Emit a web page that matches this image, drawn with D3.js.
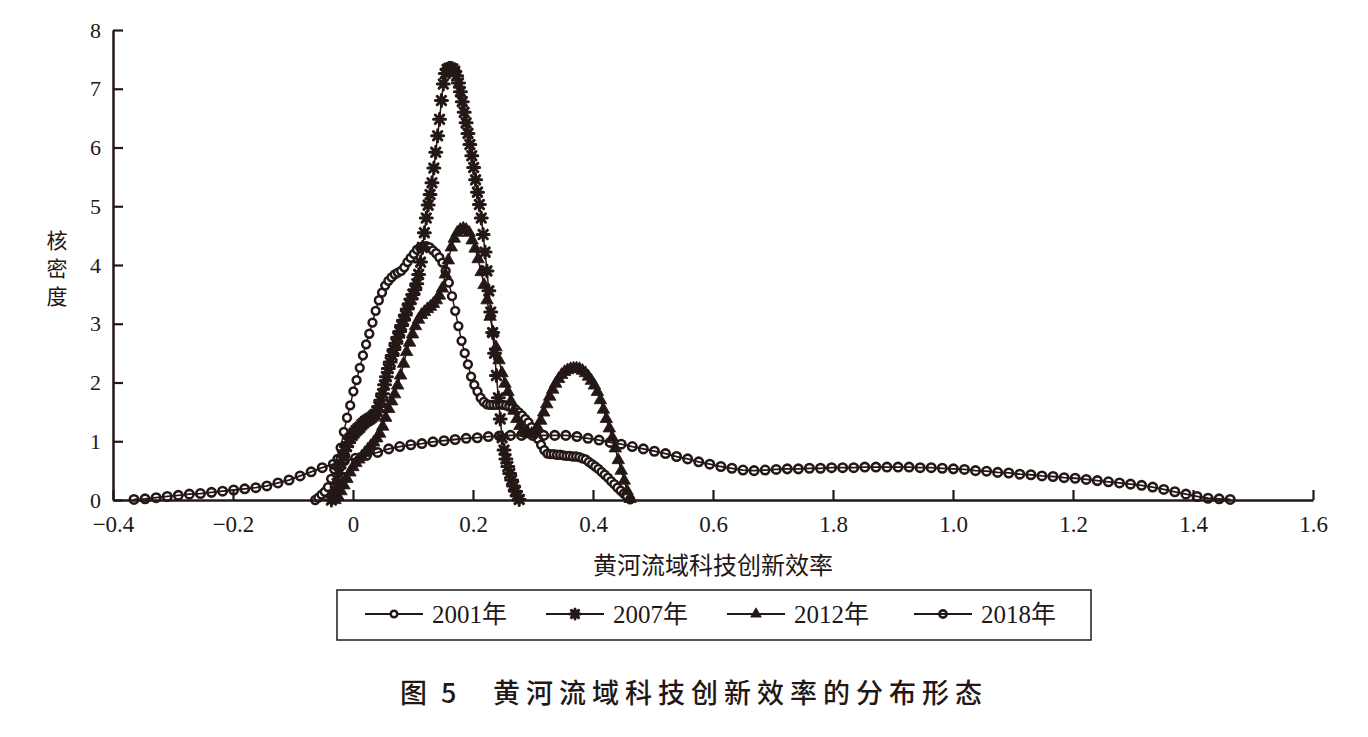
<!DOCTYPE html>
<html>
<head>
<meta charset="utf-8">
<script src="https://cdn.jsdelivr.net/npm/d3@7"></script>
<style>
  body { margin: 0; background: #fff; }
  text { fill: #231815; }
</style>
</head>
<body>
<div id="kde-chart"></div>
<script>
// kernel density, Yellow River basin tech innovation efficiency
const seriesNames = ["2001年", "2007年", "2012年", "2018年"];

// each curve is evaluated on an even grid between these two x values (100 points)
const grid2001 = [-0.063, 0.462];
const grid2007 = [-0.036, 0.277];
const grid2012 = [-0.030, 0.462];
const grid2018 = [-0.365, 1.462];

const density2001 = [
  0.00, 0.04, 0.09, 0.14, 0.22, 0.36, 0.52, 0.70, 0.89, 1.16,
  1.40, 1.61, 1.85, 2.04, 2.25, 2.46, 2.65, 2.83, 3.02, 3.22,
  3.40, 3.53, 3.65, 3.73, 3.79, 3.84, 3.87, 3.90, 3.96, 4.05,
  4.12, 4.19, 4.26, 4.30, 4.32, 4.32, 4.30, 4.25, 4.20, 4.13,
  4.04, 3.90, 3.70, 3.47, 3.22, 2.96, 2.71, 2.50, 2.31, 2.10,
  1.96, 1.85, 1.74, 1.67, 1.63, 1.62, 1.62, 1.62, 1.63, 1.62,
  1.61, 1.59, 1.57, 1.54, 1.49, 1.44, 1.38, 1.32, 1.24, 1.13,
  1.04, 0.94, 0.85, 0.79, 0.78, 0.78, 0.77, 0.77, 0.76, 0.75,
  0.75, 0.74, 0.74, 0.73, 0.71, 0.69, 0.65, 0.61, 0.57, 0.53,
  0.48, 0.43, 0.38, 0.32, 0.27, 0.21, 0.16, 0.11, 0.06, 0.01
];

const density2007 = [
  0.00, 0.05, 0.15, 0.28, 0.45, 0.62, 0.74, 0.84, 0.91, 0.98,
  1.05, 1.10, 1.14, 1.18, 1.21, 1.24, 1.28, 1.31, 1.34, 1.36,
  1.38, 1.40, 1.43, 1.46, 1.51, 1.59, 1.70, 1.81, 1.96, 2.10,
  2.24, 2.35, 2.46, 2.56, 2.67, 2.77, 2.87, 2.97, 3.06, 3.15,
  3.25, 3.34, 3.42, 3.50, 3.58, 3.68, 3.84, 4.05, 4.30, 4.55,
  4.80, 5.02, 5.20, 5.40, 5.65, 5.92, 6.20, 6.48, 6.80, 7.08,
  7.26, 7.33, 7.35, 7.35, 7.34, 7.30, 7.22, 7.10, 6.95, 6.78,
  6.60, 6.42, 6.24, 6.05, 5.86, 5.66, 5.45, 5.24, 5.03, 4.80,
  4.52, 4.22, 3.90, 3.56, 3.20, 2.85, 2.50, 2.12, 1.74, 1.38,
  1.06, 0.85, 0.70, 0.57, 0.45, 0.34, 0.24, 0.15, 0.07, 0.01
];

const density2012 = [
  0.00, 0.06, 0.15, 0.25, 0.36, 0.47, 0.56, 0.63, 0.69, 0.74,
  0.80, 0.86, 0.92, 0.98, 1.05, 1.13, 1.25, 1.40, 1.55, 1.68,
  1.80, 1.95, 2.12, 2.32, 2.52, 2.68, 2.82, 2.96, 3.07, 3.15,
  3.20, 3.25, 3.29, 3.34, 3.40, 3.48, 3.60, 3.84, 4.08, 4.30,
  4.45, 4.55, 4.60, 4.62, 4.60, 4.55, 4.42, 4.28, 4.10, 3.88,
  3.66, 3.40, 3.12, 2.85, 2.60, 2.38, 2.16, 1.98, 1.84, 1.68,
  1.52, 1.38, 1.26, 1.18, 1.14, 1.12, 1.13, 1.16, 1.23, 1.35,
  1.49, 1.63, 1.76, 1.88, 1.98, 2.06, 2.13, 2.18, 2.21, 2.23,
  2.24, 2.24, 2.23, 2.20, 2.16, 2.10, 2.03, 1.95, 1.84, 1.70,
  1.54, 1.38, 1.22, 1.06, 0.88, 0.68, 0.50, 0.33, 0.15, 0.02
];

const density2018 = [
  0.01, 0.02, 0.04, 0.06, 0.08, 0.10, 0.11, 0.13, 0.15, 0.17,
  0.19, 0.21, 0.24, 0.29, 0.34, 0.41, 0.48, 0.55, 0.61, 0.67,
  0.71, 0.76, 0.81, 0.87, 0.91, 0.94, 0.96, 0.99, 1.01, 1.03,
  1.05, 1.06, 1.08, 1.09, 1.10, 1.10, 1.10, 1.10, 1.10, 1.10,
  1.08, 1.05, 1.02, 0.98, 0.95, 0.91, 0.87, 0.83, 0.79, 0.74,
  0.70, 0.65, 0.61, 0.57, 0.54, 0.51, 0.50, 0.51, 0.52, 0.53,
  0.53, 0.54, 0.54, 0.55, 0.55, 0.55, 0.56, 0.56, 0.56, 0.56,
  0.56, 0.55, 0.55, 0.54, 0.53, 0.52, 0.50, 0.49, 0.47, 0.46,
  0.44, 0.43, 0.41, 0.40, 0.38, 0.37, 0.35, 0.33, 0.31, 0.29,
  0.27, 0.25, 0.22, 0.18, 0.14, 0.10, 0.06, 0.03, 0.02, 0.01
];

const xTickValues = [-0.4, -0.2, 0, 0.2, 0.4, 0.6, 0.8, 1.0, 1.2, 1.4, 1.6];
// labels as printed (the 0.8 position is printed "1.8" in the source)
const xTickLabels = ["−0.4", "−0.2", "0", "0.2", "0.4", "0.6", "1.8", "1.0", "1.2", "1.4", "1.6"];
const yTickValues = [0, 1, 2, 3, 4, 5, 6, 7, 8];

const xTitle = "黄河流域科技创新效率";
const yTitle = ["核", "密", "度"];
const figNo = "图 5";
const figTitle = "黄河流域科技创新效率的分布形态";

const toPoints = (grid, values) => {
    const step = (grid[1] - grid[0]) / (values.length - 1);
    return values.map((v, i) => ({ x: grid[0] + i * step, y: v }));
};

const drawChart = () => {
    const width = 1368;
    const height = 737;
    const margin = { top: 30, left: 113 };
    const innerWidth = 1200;
    const innerHeight = 470;
    const ink = "#231815";
    const serif = "'Liberation Serif', 'Times New Roman', 'Noto Sans CJK SC', serif";
    const cjk = "'Noto Sans CJK SC', sans-serif";

    const series = [
        { name: seriesNames[0], marker: "circle", data: toPoints(grid2001, density2001) },
        { name: seriesNames[1], marker: "asterisk", data: toPoints(grid2007, density2007) },
        { name: seriesNames[2], marker: "triangle", data: toPoints(grid2012, density2012) },
        { name: seriesNames[3], marker: "ring", data: toPoints(grid2018, density2018) }
    ];

    const svg = d3.select("#kde-chart")
        .append("svg")
        .attr("width", width)
        .attr("height", height)
        .attr("viewBox", `0, 0, ${width}, ${height}`);

    svg.append("rect")
        .attr("width", width)
        .attr("height", height)
        .attr("fill", "#fff");

    const innerChart = svg.append("g")
        .attr("transform", `translate(${margin.left}, ${margin.top})`);

    const xScale = d3.scaleLinear()
        .domain([-0.4, 1.6])
        .range([0, innerWidth]);

    const yScale = d3.scaleLinear()
        .domain([0, 8])
        .range([innerHeight, 0]);

    // axes, ticks point inward
    const bottomAxis = d3.axisBottom(xScale)
        .tickValues(xTickValues)
        .tickFormat((d, i) => xTickLabels[i])
        .tickSizeInner(-10)
        .tickSizeOuter(0)
        .tickPadding(16);

    const leftAxis = d3.axisLeft(yScale)
        .tickValues(yTickValues)
        .tickFormat(d3.format("d"))
        .tickSizeInner(-10)
        .tickSizeOuter(0)
        .tickPadding(12);

    // marker shapes
    const markerPath = (type, scale = 1) => {
        if (type === "triangle") return d3.symbol(d3.symbolTriangle, 68 * scale * scale)();
        if (type === "asterisk") {
            const r = 6 * scale, s = r * Math.SQRT1_2;
            return `M${-r},0L${r},0M0,${-r}L0,${r}M${-s},${-s}L${s},${s}M${-s},${s}L${s},${-s}`;
        }
        if (type === "ring") return d3.symbol(d3.symbolCircle, 56 * scale * scale)();
        return d3.symbol(d3.symbolCircle, 48 * scale * scale)();
    };

    const styleMarker = (sel, type) => {
        if (type === "triangle") {
            sel.attr("fill", ink).attr("stroke", ink).attr("stroke-width", 0.8);
        } else if (type === "asterisk") {
            sel.attr("fill", "none").attr("stroke", ink)
                .attr("stroke-width", 3).attr("stroke-linecap", "round");
        } else if (type === "circle") {
            sel.attr("fill", "#fff").attr("stroke", ink).attr("stroke-width", 2.5);
        } else {
            sel.attr("fill", "none").attr("stroke", ink).attr("stroke-width", 2.6);
        }
    };

    const line = d3.line()
        .x(d => xScale(d.x))
        .y(d => yScale(d.y));

    series.forEach(s => {
        const g = innerChart.append("g").attr("class", "series");
        if (s.marker !== "ring") {
            g.append("path")
                .attr("d", line(s.data))
                .attr("fill", "none")
                .attr("stroke", ink)
                .attr("stroke-width", 1.5);
        }
        g.selectAll("path.mark")
            .data(s.data)
            .join("path")
            .attr("class", "mark")
            .attr("d", markerPath(s.marker))
            .attr("transform", d => `translate(${xScale(d.x)}, ${yScale(d.y)})`)
            .call(sel => styleMarker(sel, s.marker));
        if (s.marker === "ring") {
            g.append("path")
                .attr("d", line(s.data))
                .attr("fill", "none")
                .attr("stroke", ink)
                .attr("stroke-width", 1.8);
        }
    });

    const axisX = innerChart.append("g")
        .attr("class", "axis-x")
        .attr("transform", `translate(0, ${innerHeight})`)
        .call(bottomAxis);

    const axisY = innerChart.append("g")
        .attr("class", "axis-y")
        .call(leftAxis);

    [axisX, axisY].forEach(ax => {
        ax.select(".domain").attr("stroke", ink).attr("stroke-width", 2.5);
        ax.selectAll(".tick line").attr("stroke", ink).attr("stroke-width", 2.2);
        ax.selectAll(".tick text")
            .attr("fill", ink)
            .style("font-family", serif);
    });
    axisX.selectAll(".tick text").style("font-size", "23px");
    axisY.selectAll(".tick text").style("font-size", "22px");

    // y title, stacked vertically
    svg.append("text")
        .attr("x", 57)
        .attr("y", 248)
        .style("font-family", cjk)
        .style("font-size", "21px")
        .attr("text-anchor", "middle")
        .selectAll("tspan")
        .data(yTitle)
        .join("tspan")
        .attr("x", 57)
        .attr("dy", (d, i) => i === 0 ? 0 : 28)
        .text(d => d);

    // x title
    svg.append("text")
        .text(xTitle)
        .attr("x", margin.left + xScale(0.6))
        .attr("y", 574)
        .attr("text-anchor", "middle")
        .style("font-family", cjk)
        .style("font-size", "24px");

    // legend
    const legend = svg.append("g").attr("class", "legend");
    legend.append("rect")
        .attr("x", 337)
        .attr("y", 590)
        .attr("width", 754)
        .attr("height", 50)
        .attr("fill", "none")
        .attr("stroke", ink)
        .attr("stroke-width", 1.5);

    const legendX = [365, 546, 727, 914];
    series.forEach((s, i) => {
        const item = legend.append("g")
            .attr("transform", `translate(${legendX[i]}, 614)`);
        item.append("line")
            .attr("x1", 0).attr("x2", 58)
            .attr("stroke", ink)
            .attr("stroke-width", 2);
        item.append("path")
            .attr("d", markerPath(s.marker, 0.85))
            .attr("transform", "translate(29, 0)")
            .call(sel => styleMarker(sel, s.marker));
        item.append("text")
            .text(s.name)
            .attr("x", 67)
            .attr("y", 9)
            .style("font-family", serif)
            .style("font-size", "25px");
    });

    // figure caption
    svg.append("text")
        .text(figNo)
        .attr("x", 400)
        .attr("y", 703)
        .style("font-family", cjk)
        .style("font-size", "27px")
        .style("font-weight", 500)
        .style("letter-spacing", "4px");
    svg.append("text")
        .text(figTitle)
        .attr("x", 493)
        .attr("y", 703)
        .style("font-family", cjk)
        .style("font-size", "27px")
        .style("font-weight", 500)
        .style("letter-spacing", "6px");
};

drawChart();
</script>
</body>
</html>
